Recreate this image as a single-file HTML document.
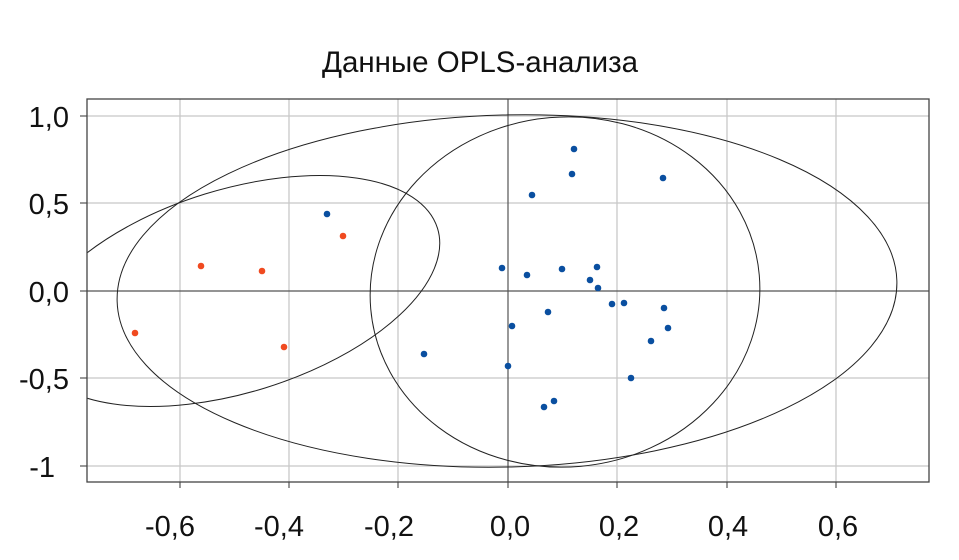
<!DOCTYPE html><html><head><style>body{margin:0;background:#fff}svg{display:block}text{font-family:"Liberation Sans",sans-serif;fill:#111}</style></head><body>
<svg width="959" height="560" xmlns="http://www.w3.org/2000/svg">
<text x="480" y="72" font-size="29.5" text-anchor="middle">Данные OPLS-анализа</text>
<g stroke="#c8c8c8" stroke-width="1.3">
<line x1="180" y1="99" x2="180" y2="482"/><line x1="289" y1="99" x2="289" y2="482"/><line x1="398" y1="99" x2="398" y2="482"/><line x1="617" y1="99" x2="617" y2="482"/><line x1="727" y1="99" x2="727" y2="482"/><line x1="836" y1="99" x2="836" y2="482"/>
<line x1="87" y1="116" x2="929" y2="116"/><line x1="87" y1="203" x2="929" y2="203"/><line x1="87" y1="378" x2="929" y2="378"/><line x1="87" y1="466" x2="929" y2="466"/>
</g>
<g stroke="#555" stroke-width="1.2">
<line x1="508" y1="99" x2="508" y2="482"/><line x1="87" y1="291" x2="929" y2="291"/>
<line x1="80" y1="116" x2="87" y2="116"/><line x1="80" y1="203" x2="87" y2="203"/><line x1="80" y1="291" x2="87" y2="291"/><line x1="80" y1="378" x2="87" y2="378"/><line x1="80" y1="466" x2="87" y2="466"/>
<line x1="180" y1="482" x2="180" y2="488"/><line x1="289" y1="482" x2="289" y2="488"/><line x1="398" y1="482" x2="398" y2="488"/><line x1="508" y1="482" x2="508" y2="488"/><line x1="617" y1="482" x2="617" y2="488"/><line x1="727" y1="482" x2="727" y2="488"/><line x1="836" y1="482" x2="836" y2="488"/>
</g>
<defs><clipPath id="c"><rect x="87" y="99" width="842" height="383"/></clipPath></defs>
<g clip-path="url(#c)" fill="none" stroke="#222" stroke-width="1">
<ellipse cx="507" cy="291" rx="390" ry="176" transform="rotate(-1.5 507 291)"/>
<ellipse cx="565" cy="292" rx="195" ry="175" transform="rotate(-5 565 292)"/>
<ellipse cx="235" cy="291" rx="212" ry="101.5" transform="rotate(-17.2 235 291)"/>
</g>
<rect x="87" y="99" width="842" height="383" fill="none" stroke="#444" stroke-width="1.3"/>
<g fill="#f04a20">
<circle cx="201" cy="266" r="3.3"/><circle cx="262" cy="271" r="3.3"/><circle cx="343" cy="236" r="3.3"/><circle cx="284" cy="347" r="3.3"/><circle cx="135" cy="333" r="3.3"/>
</g>
<g fill="#0a4fa0">
<circle cx="327" cy="214" r="3.3"/><circle cx="574" cy="149" r="3.3"/><circle cx="572" cy="174" r="3.3"/><circle cx="532" cy="195" r="3.3"/><circle cx="663" cy="178" r="3.3"/><circle cx="502" cy="268" r="3.3"/><circle cx="527" cy="275" r="3.3"/><circle cx="562" cy="269" r="3.3"/><circle cx="597" cy="267" r="3.3"/><circle cx="590" cy="280" r="3.3"/><circle cx="598" cy="288" r="3.3"/><circle cx="612" cy="304" r="3.3"/><circle cx="624" cy="303" r="3.3"/><circle cx="664" cy="308" r="3.3"/><circle cx="668" cy="328" r="3.3"/><circle cx="512" cy="326" r="3.3"/><circle cx="548" cy="312" r="3.3"/><circle cx="651" cy="341" r="3.3"/><circle cx="424" cy="354" r="3.3"/><circle cx="508" cy="366" r="3.3"/><circle cx="631" cy="378" r="3.3"/><circle cx="554" cy="401" r="3.3"/><circle cx="544" cy="407" r="3.3"/>
</g>
<g font-size="29" text-anchor="end">
<text x="69" y="127">1,0</text><text x="69" y="214">0,5</text><text x="69" y="302">0,0</text><text x="69" y="389">-0,5</text><text x="55" y="477">-1</text>
</g>
<g font-size="29" text-anchor="middle">
<text x="170" y="536">-0,6</text><text x="279" y="536">-0,4</text><text x="389" y="536">-0,2</text><text x="510" y="536">0,0</text><text x="619" y="536">0,2</text><text x="728" y="536">0,4</text><text x="838" y="536">0,6</text>
</g>
</svg>
</body></html>
